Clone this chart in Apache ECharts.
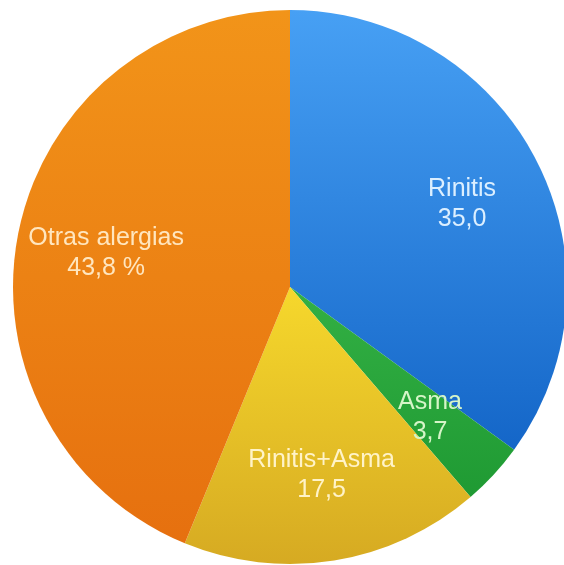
<!DOCTYPE html>
<html>
<head>
<meta charset="utf-8">
<script src="https://cdn.jsdelivr.net/npm/echarts@6/dist/echarts.min.js"></script>
<style>
  html, body { margin: 0; padding: 0; background: #ffffff; }
  #chart { width: 564px; height: 565px; }
</style>
</head>
<body>
<div id="chart"></div>
<script>
// Categories and shares (%) of the allergy groups
const categories = ['Rinitis', 'Asma', 'Rinitis+Asma', 'Otras alergias'];
const values = [35.0, 3.7, 17.5, 43.8];
const suffixes = ['', '', '', ' %'];

// Top / bottom colours of each slice's vertical gradient
const topColors = ['#47a0f4', '#33b044', '#f6d82c', '#f29419'];
const bottomColors = ['#1466c8', '#1f9a33', '#d6aa22', '#e6700f'];
const labelColors = ['#dcefff', '#d6f5c8', '#fff3c8', '#ffe6bf'];
// Nudges of each label away from the mid-radius point
const labelOffsets = [[46, -19], [36, 34], [9, 48], [-45, -7]];

function fmt(v) {
  return v.toFixed(1).replace('.', ',');
}

const chart = echarts.init(document.getElementById('chart'), null, { renderer: 'canvas' });

chart.setOption({
  animation: false,
  backgroundColor: '#ffffff',
  series: [{
    type: 'pie',
    center: [290, 287],
    radius: [0, 277],
    startAngle: 90,
    clockwise: true,
    avoidLabelOverlap: false,
    label: {
      show: true,
      position: 'inside',
      fontFamily: 'Liberation Sans, Arial, sans-serif',
      fontSize: 25,
      lineHeight: 30,
      align: 'center'
    },
    labelLine: { show: false },
    itemStyle: { borderWidth: 0 },
    emphasis: { disabled: true },
    data: categories.map((name, i) => ({
      name: name,
      value: values[i],
      itemStyle: {
        color: new echarts.graphic.LinearGradient(0, 0, 0, 1, [
          { offset: 0, color: topColors[i] },
          { offset: 1, color: bottomColors[i] }
        ])
      },
      label: {
        color: labelColors[i],
        offset: labelOffsets[i],
        formatter: name + '\n' + fmt(values[i]) + suffixes[i]
      }
    }))
  }]
});
</script>
</body>
</html>
